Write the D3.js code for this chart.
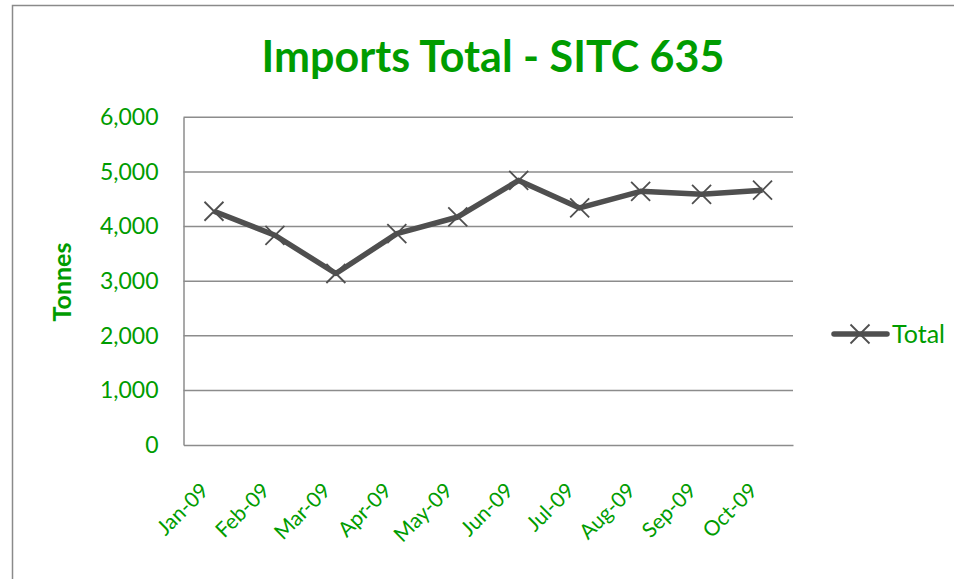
<!DOCTYPE html>
<html><head><meta charset="utf-8">
<script src="https://cdn.jsdelivr.net/npm/d3@7"></script>
<style>
html,body{margin:0;padding:0;background:#fff;}
svg{display:block;}
text{font-family:Lato, "Open Sans", sans-serif;}
</style></head>
<body>
<svg id="chart" width="954" height="579"></svg>
<script>
const categories = ["Jan-09","Feb-09","Mar-09","Apr-09","May-09","Jun-09","Jul-09","Aug-09","Sep-09","Oct-09"];
const totalValues = [4280, 3840, 3140, 3870, 4175, 4845, 4340, 4645, 4590, 4665];
const yTicks = [0, 1000, 2000, 3000, 4000, 5000, 6000];
const seriesName = "Total";
const titleText = "Imports Total - SITC 635";
const yTitle = "Tonnes";

const green = "#009c00";
const lineColor = "#4f4f4f";
const gridColor = "#8c8c8c";

const svg = d3.select("#chart");
const plotL = 183.5, plotR = 793, plotT = 117.3, plotB = 445;

// outer border
svg.append("path").attr("d", "M12.5,579 V5.5 H954").attr("fill","none").attr("stroke","#8a8a8a").attr("stroke-width",1.5);

const x = d3.scaleBand().domain(categories).range([plotL, plotR]).padding(0);
const y = d3.scaleLinear().domain([0, 6000]).range([plotB, plotT]);

// gridlines
svg.append("g").selectAll("line").data(yTicks.filter(d=>d>0)).join("line")
  .attr("x1", plotL).attr("x2", plotR)
  .attr("y1", d=>y(d)).attr("y2", d=>y(d))
  .attr("stroke", gridColor).attr("stroke-width", 1.5);

// y axis
const yAxis = d3.axisLeft(y).tickValues(yTicks).tickSize(0).tickPadding(25).tickFormat(d3.format(","));
const gy = svg.append("g").attr("transform", `translate(${plotL},0)`).call(yAxis);
gy.select(".domain").attr("stroke", gridColor).attr("stroke-width",1.5);
gy.selectAll("text").attr("fill", green).style("font-size","23px").style("font-family","Lato, sans-serif");

// x axis
const xAxis = d3.axisBottom(x).tickSize(0).tickPadding(0);
const gx = svg.append("g").attr("transform", `translate(0,${plotB})`).call(xAxis);
gx.select(".domain").attr("stroke", gridColor).attr("stroke-width",1.5);
gx.selectAll("text")
  .attr("fill", green).style("font-size","21px").style("font-family","Lato, sans-serif")
  .attr("text-anchor","end").attr("dy", null).attr("y", 0)
  .attr("transform", "translate(-4,47) rotate(-45)");

// line
const line = d3.line().x((d,i)=>x(categories[i]) + x.bandwidth()/2).y(d=>y(d));
svg.append("path").datum(totalValues).attr("d", line)
  .attr("fill","none").attr("stroke", lineColor).attr("stroke-width", 5.5).attr("stroke-linejoin","round");

// markers
const m = 9.5;
svg.append("g").selectAll("path").data(totalValues).join("path")
  .attr("d", (d,i)=>{const cx = x(categories[i]) + x.bandwidth()/2, cy = y(d);
    return `M${cx-m},${cy-m}L${cx+m},${cy+m}M${cx-m},${cy+m}L${cx+m},${cy-m}`;})
  .attr("stroke", lineColor).attr("stroke-width", 1.8).attr("fill","none");

// title
svg.append("text").attr("x", 493).attr("y", 72).attr("text-anchor","middle")
  .attr("fill", green).style("font-size","43px").style("font-weight","bold").text(titleText);

// y title
svg.append("text").attr("transform","translate(71,282) rotate(-90)").attr("text-anchor","middle")
  .attr("fill", green).style("font-size","25px").style("font-weight","bold").text(yTitle);

// legend
const lg = svg.append("g");
lg.append("line").attr("x1",834).attr("x2",887).attr("y1",334).attr("y2",334)
  .attr("stroke", lineColor).attr("stroke-width",5.5).attr("stroke-linecap","round");
lg.append("path").attr("d", `M${860-m},${334-m}L${860+m},${334+m}M${860-m},${334+m}L${860+m},${334-m}`)
  .attr("stroke", lineColor).attr("stroke-width",1.8);
lg.append("text").attr("x", 892).attr("y", 343).attr("fill", green).style("font-size","25px").text(seriesName);
</script>
</body></html>
